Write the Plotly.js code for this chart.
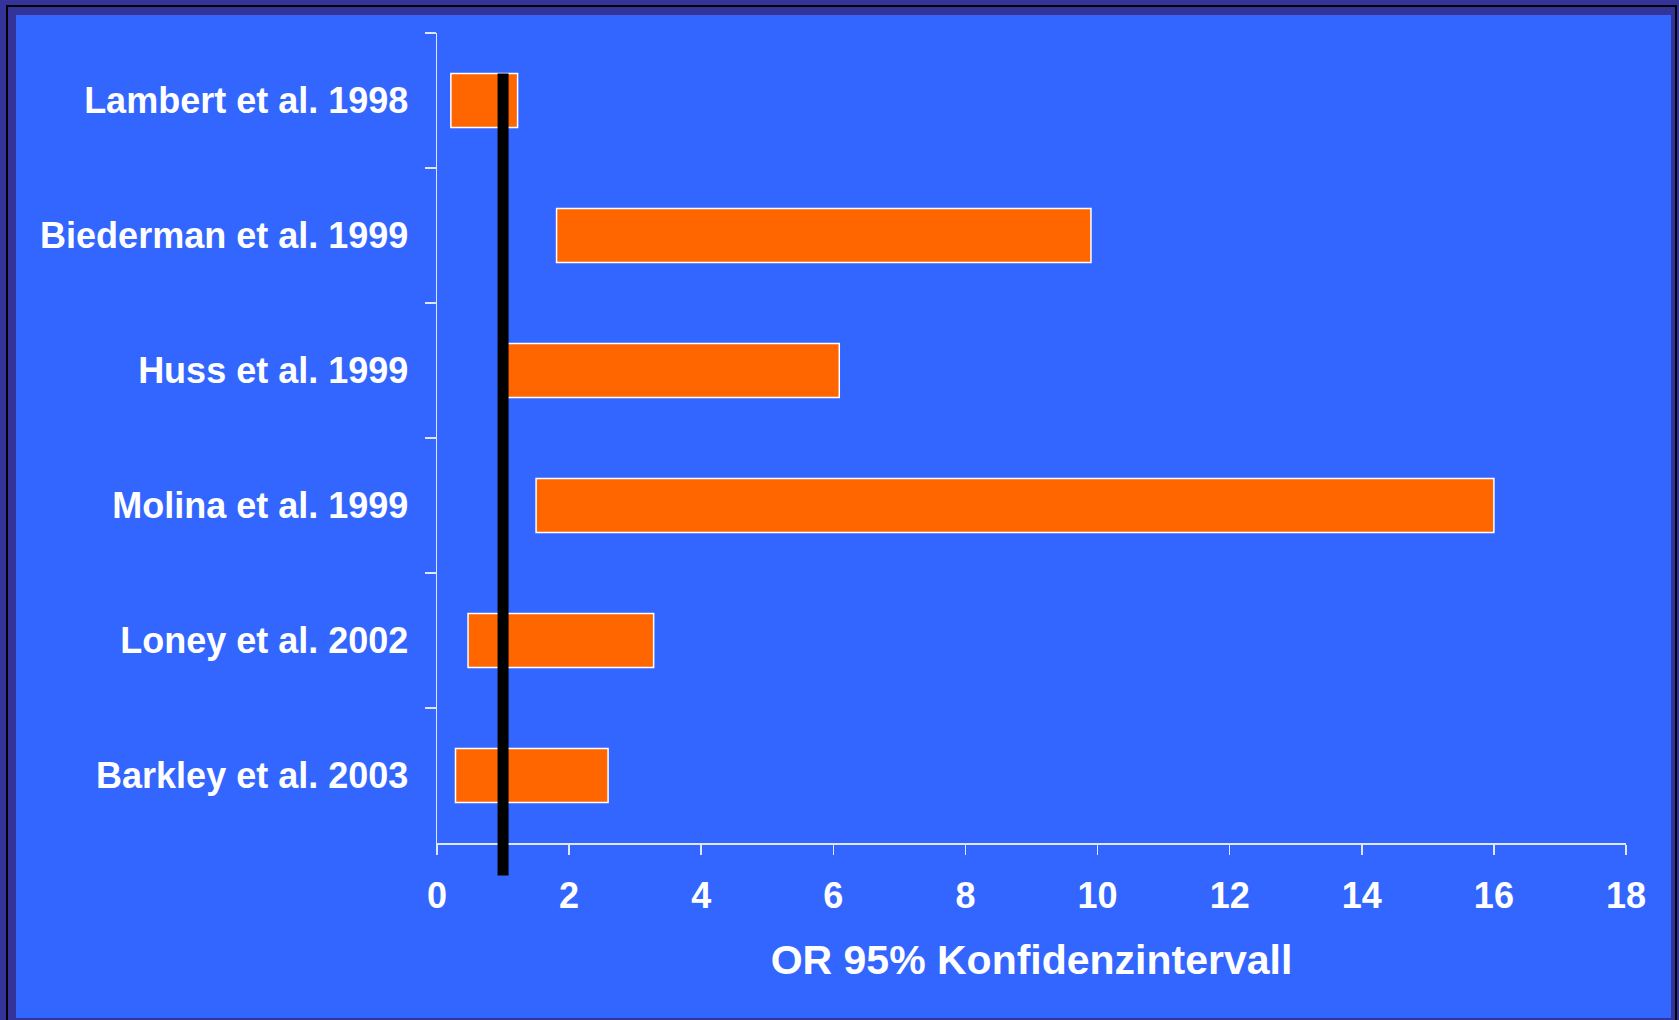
<!DOCTYPE html>
<html>
<head>
<meta charset="utf-8">
<script src="https://cdn.plot.ly/plotly-3.0.1.min.js"></script>
<style>
  html, body { margin: 0; padding: 0; width: 1679px; height: 1020px; overflow: hidden; background: #333399; }
  #frame { position: absolute; left: 6px; top: 5px; width: 1671px; height: 1030px; border: 2px solid #000; box-sizing: border-box; }
  #chart { position: absolute; left: 16px; top: 15px; width: 1655px; height: 1003px; }
</style>
</head>
<body>
<div id="frame"></div>
<div id="chart"></div>
<script>
// Studies (top to bottom) with lower/upper bounds of the 95% CI of the odds ratio
const studies = ["Lambert et al. 1998", "Biederman et al. 1999", "Huss et al. 1999", "Molina et al. 1999", "Loney et al. 2002", "Barkley et al. 2003"];
const ciLower = [0.21, 1.81, 1.05, 1.5, 0.47, 0.28];
const ciUpper = [1.22, 9.9, 6.09, 16.0, 3.28, 2.59];
const refLine = 1;
const xTicks = [0, 2, 4, 6, 8, 10, 12, 14, 16, 18];
const axisTitle = "OR 95% Konfidenzintervall";

const barWidth = 0.4;
const n = studies.length;
const font = "Arial, 'Liberation Sans', sans-serif";

const trace = {
  type: "bar",
  orientation: "h",
  y: studies,
  base: ciLower,
  x: ciUpper.map((u, i) => u - ciLower[i]),
  width: barWidth,
  marker: { color: "#FF6600", line: { color: "#FFFFFF", width: 1.5 } },
  hoverinfo: "skip"
};

const layout = {
  width: 1655,
  height: 1003,
  margin: { l: 421, r: 45, t: 18, b: 175 },
  paper_bgcolor: "#3366FF",
  plot_bgcolor: "#3366FF",
  showlegend: false,
  font: { family: font, color: "#FFFFFF" },
  xaxis: {
    range: [0, 18],
    tickvals: xTicks,
    ticktext: xTicks.map(String),
    showgrid: false,
    zeroline: false,
    showline: true,
    linecolor: "#DDE5FF",
    linewidth: 1.5,
    ticks: "outside",
    ticklen: 10,
    tickwidth: 1.5,
    tickcolor: "#DDE5FF",
    tickfont: { family: font, size: 36, color: "#FFFFFF", weight: "bold" },
    ticklabelstandoff: 10,
    title: { text: axisTitle, font: { family: font, size: 41, color: "#FFFFFF", weight: "bold" }, standoff: 30 }
  },
  yaxis: {
    type: "category",
    categoryorder: "array",
    categoryarray: studies,
    range: [n - 0.5, -0.5],
    showgrid: false,
    zeroline: false,
    showline: true,
    linecolor: "#DDE5FF",
    linewidth: 1.5,
    ticks: "outside",
    tickson: "boundaries",
    ticklen: 11,
    tickwidth: 1.5,
    tickcolor: "#DDE5FF",
    tickfont: { family: font, size: 36, color: "#FFFFFF", weight: "bold" },
    ticklabelstandoff: 20
  },
  shapes: [{
    type: "line",
    xref: "x", yref: "paper",
    x0: refLine, x1: refLine,
    y0: -0.04,
    y1: (n - 0.5 + barWidth / 2) / n,
    line: { color: "#000000", width: 11 },
    layer: "above"
  }]
};

Plotly.newPlot("chart", [trace], layout, { displayModeBar: false, staticPlot: true });
</script>
</body>
</html>
